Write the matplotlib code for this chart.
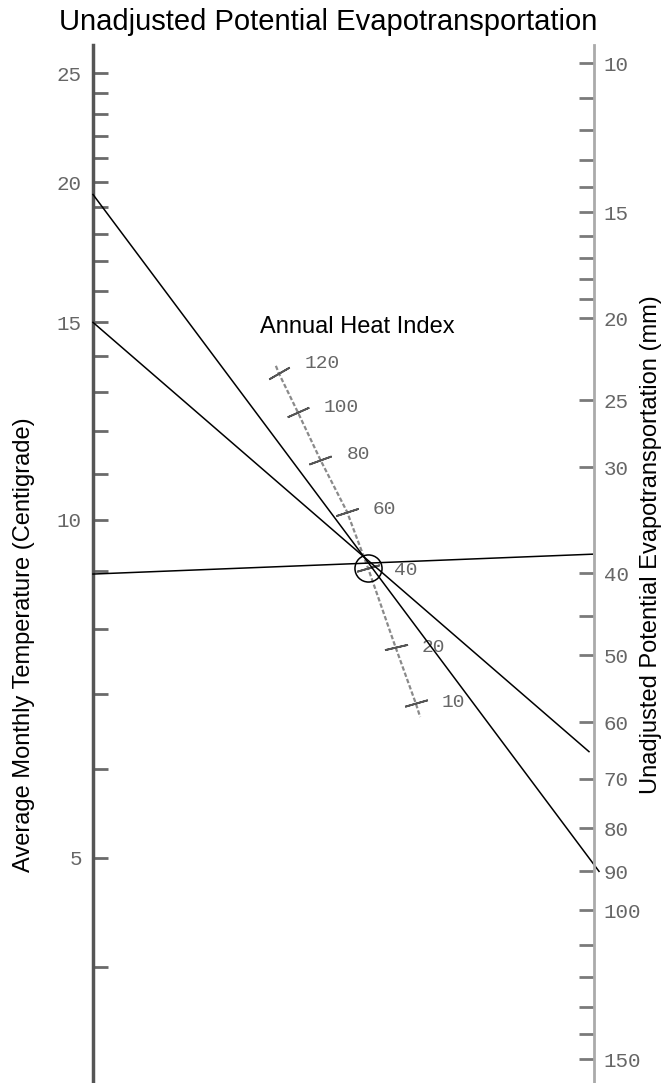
import matplotlib
matplotlib.use("Agg")
import matplotlib.pyplot as plt

# left scale: average monthly temperature (centigrade), log spaced
temp_major = [5, 10, 15, 20, 25]
temp_minor = [4, 6, 7, 8, 9, 11, 12, 13, 14, 16, 17, 18, 19, 21, 22, 23, 24]
temp_lim = (3.15, 26.5)

# right scale: unadjusted potential evapotransportation (mm), log spaced
pet_major = [10, 15, 20, 25, 30, 40, 50, 60, 70, 80, 90, 100, 150]
pet_minor = [11, 12, 13, 14, 16, 17, 18, 19, 45, 110, 120, 130, 140]
pet_lim = (160.0, 9.52)

# annual heat index scale: value, position across (0 = left, 1 = right),
# and the temperature level it sits at
heat_index = [120, 100, 80, 60, 40, 20, 10]
heat_x = [0.371, 0.409, 0.454, 0.507, 0.549, 0.604, 0.644]
heat_temp = [13.51, 12.47, 11.31, 10.17, 9.06, 7.70, 6.87]
curve_x = [0.365] + heat_x + [0.653]
curve_temp = [13.72] + heat_temp + [6.675]

# tick direction on the curve and label lift (pixels)
tick_angle = [30, 24, 20, 18, 16, 13, 16]
label_lift = [10, 5, 5, 2, -2, 0, 0]

# example readings: temperature on the left joined to PET on the right
line_temp = [19.5, 15.0, 8.95]
line_pet = [90, 65, 38]
line_end_x = [1.01, 0.99, 0.997]

W, H = 671, 1083
fig = plt.figure(figsize=(W / 100, H / 100), dpi=100)
ax = fig.add_axes([93 / W, 0, (594 - 93) / W, 1 - 45 / H])
ax.set_yscale("log")
ax.set_ylim(*temp_lim)
ax.set_xlim(0, 1)

ax2 = ax.twinx()
ax2.set_yscale("log")
ax2.set_ylim(*pet_lim)

for a in (ax, ax2):
    a.set_xticks([])
    a.spines["top"].set_visible(False)
    a.spines["bottom"].set_visible(False)
ax.spines["right"].set_visible(False)
ax2.spines["left"].set_visible(False)
ax.spines["left"].set_color("#555555")
ax.spines["left"].set_linewidth(2.5)
ax2.spines["right"].set_color("#aaaaaa")
ax2.spines["right"].set_linewidth(2)

num_font = dict(family="Liberation Mono", size=15, color="#666666")
heat_font = dict(family="Liberation Mono", size=14, color="#666666")

ax.set_yticks(temp_major)
ax.set_yticklabels([str(v) for v in temp_major], fontdict=num_font)
ax.set_yticks(temp_minor, minor=True)
ax.yaxis.set_minor_formatter(plt.NullFormatter())
ax.tick_params(axis="y", which="both", direction="in", length=11, width=2,
               color="#6a6a6a", pad=8)

ax2.set_yticks(pet_major)
ax2.set_yticklabels([str(v) for v in pet_major], fontdict=num_font)
ax2.set_yticks(pet_minor, minor=True)
ax2.yaxis.set_minor_formatter(plt.NullFormatter())
ax2.tick_params(axis="y", which="both", direction="in", length=11, width=2,
                color="#7a7a7a", pad=7)

# heat index curve and its ticks
ax.plot(curve_x, curve_temp, color="#8a8a8a", lw=1.6, ls=(0, (2, 1)), zorder=3)
for x, t, ang, lift, v in zip(heat_x, heat_temp, tick_angle, label_lift, heat_index):
    ax.plot([x], [t], marker=(2, 2, ang - 90), ms=17, mew=1.3,
            color="#555555", zorder=4)
    ax.annotate(str(v), (x, t), xytext=(26, lift), textcoords="offset pixels",
                ha="left", va="center", **heat_font)

# joining lines, right ends converted from the PET scale to the temperature scale
to_temp = ax2.transData + ax.transData.inverted()
for t, p, xe in zip(line_temp, line_pet, line_end_x):
    _, t_right = to_temp.transform((xe, p))
    ax.plot([0, xe], [t, t_right], color="black", lw=1.1, clip_on=False, zorder=5)

i40 = heat_index.index(40)
ax.plot([heat_x[i40]], [heat_temp[i40]], marker="o", ms=19.5, mfc="none",
        mec="black", mew=1.1, zorder=6)

sans = "Liberation Sans"
fig.text(357 / W, 1 - 327 / H, "Annual Heat Index",
         ha="center", va="center", family=sans, fontsize=17)
fig.text(328 / W, 1 - 22 / H, "Unadjusted Potential Evapotransportation",
         ha="center", va="center", family=sans, fontsize=21)
fig.text(24 / W, 1 - 645 / H, "Average Monthly Temperature (Centigrade)",
         rotation=90, ha="center", va="center", family=sans, fontsize=17)
fig.text(651 / W, 1 - 545 / H, "Unadjusted Potential Evapotransportation (mm)",
         rotation=90, ha="center", va="center", family=sans, fontsize=17)

fig.savefig("out.png", dpi=100)
